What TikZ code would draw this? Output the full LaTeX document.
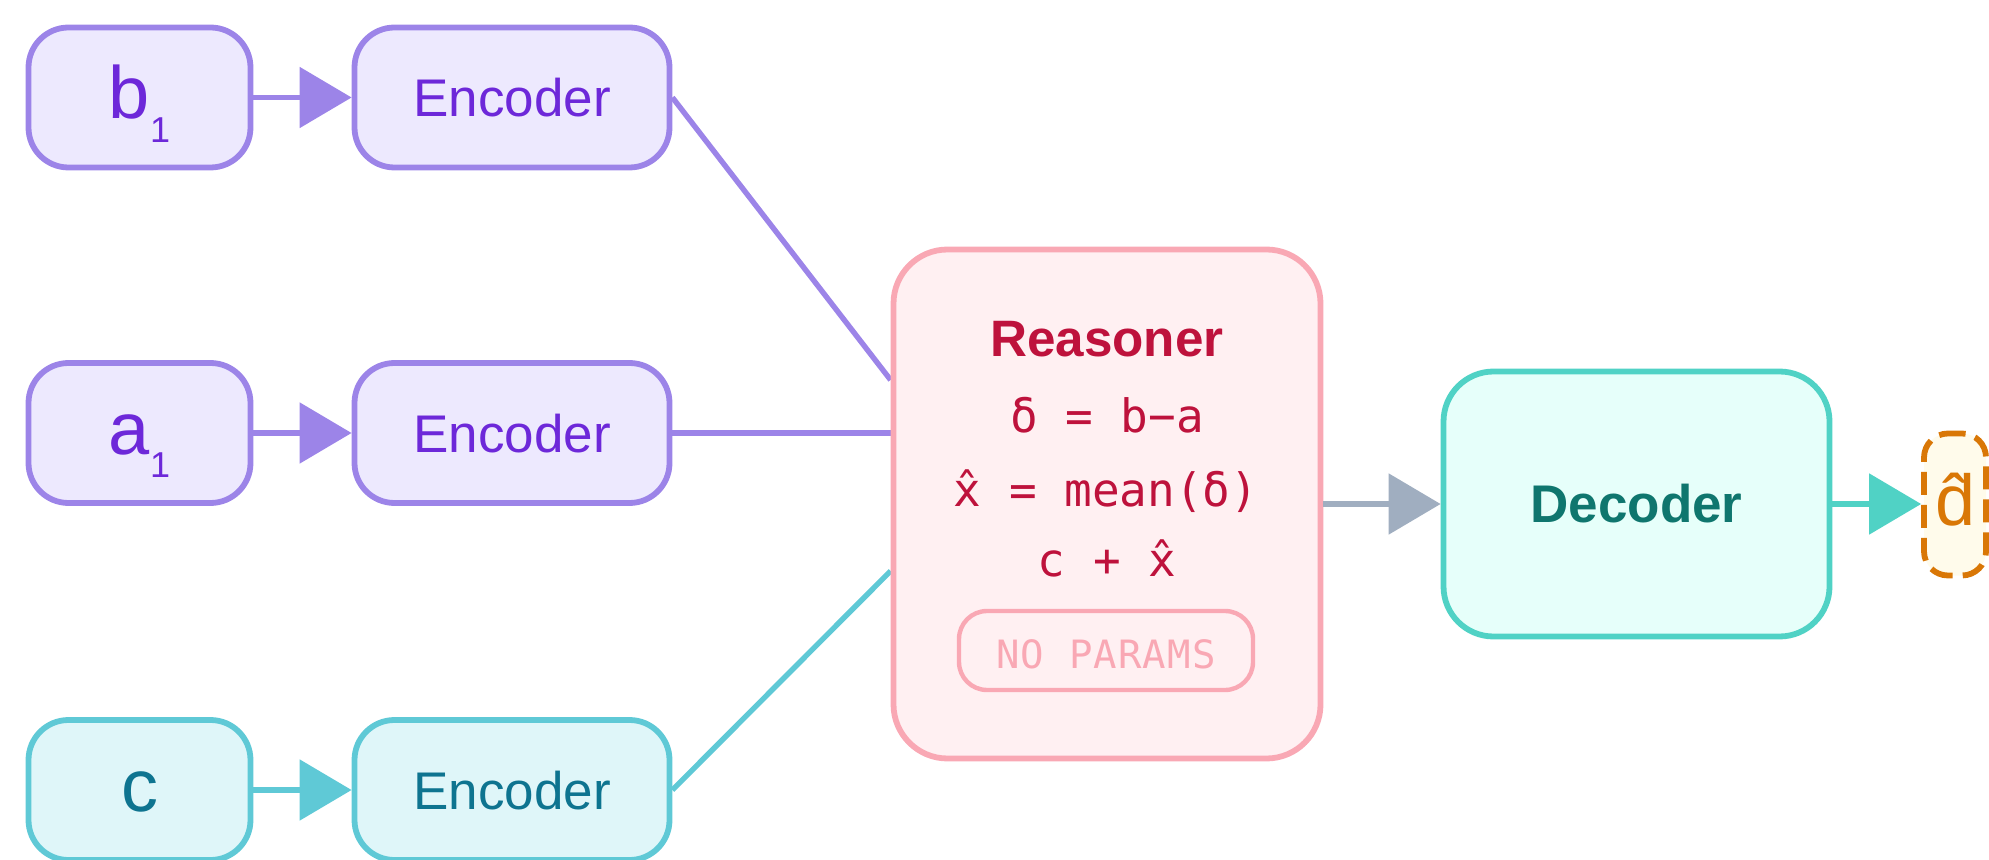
\documentclass[tikz,border=0pt]{standalone}
\usepackage{fontspec}
\setmainfont{Liberation Sans}
\newfontfamily\monofont{DejaVu Sans Mono}
\newfontfamily\monospaced[LetterSpace=3]{DejaVu Sans Mono}
\usetikzlibrary{arrows.meta,calc,backgrounds}

\definecolor{purpS}{HTML}{9C84E8}
\definecolor{purpF}{HTML}{EDE9FE}
\definecolor{purpT}{HTML}{6D28D9}
\definecolor{cyanS}{HTML}{5FC9D6}
\definecolor{cyanF}{HTML}{DFF6F9}
\definecolor{cyanT}{HTML}{0E7490}
\definecolor{roseS}{HTML}{F9A8B4}
\definecolor{roseF}{HTML}{FFF0F2}
\definecolor{roseT}{HTML}{BE123C}
\definecolor{tealS}{HTML}{50D2C5}
\definecolor{tealF}{HTML}{E6FFFA}
\definecolor{tealT}{HTML}{0F766E}
\definecolor{grayA}{HTML}{A0AEC0}
\definecolor{orgS}{HTML}{D97706}
\definecolor{orgF}{HTML}{FFFBEB}

\newcommand\lowsub[1]{\raisebox{-12pt}{\fontsize{18}{18}\selectfont #1}}

\begin{document}
\begin{tikzpicture}[x=0.5pt,y=-0.5pt,
  box/.style={draw, line width=2.9pt, rounded corners=20pt, inner sep=0pt, text depth=0pt},
  small/.style={box, minimum width=111pt, minimum height=70pt, font=\fontsize{37}{37}\selectfont, text height=21pt},
  enc/.style={box, minimum width=157.5pt, minimum height=70pt, font=\fontsize{26.5}{26.5}\selectfont, text height=19.5pt},
  purp/.style={draw=purpS, fill=purpF, text=purpT},
  cyn/.style={draw=cyanS, fill=cyanF, text=cyanT},
  conn/.style={line width=2.7pt},
  tip/.style={-{Triangle[length=26pt,width=30pt]}},
  monoline/.style={anchor=base, text=roseT, font=\monofont\fontsize{23}{23}\selectfont, inner sep=0pt},
]
\useasboundingbox (0,0) rectangle (1989,860);

\node[small,purp] (b1) at (139.5,97.5) {b\lowsub{1}};
\node[enc,purp] (e1) at (512,97.5) {Encoder};
\node[small,purp] (a1) at (139.5,433) {a\lowsub{1}};
\node[enc,purp] (e2) at (512,433) {Encoder};
\node[small,cyn] (c) at (139.5,790) {c};
\node[enc,cyn] (e3) at (512,790) {Encoder};

\node[box, draw=roseS, fill=roseF, rounded corners=27pt, minimum width=213.5pt, minimum height=254.5pt] (R) at (1107,504) {};
\node[anchor=base, inner sep=0pt, text=roseT, font=\bfseries\fontsize{25.6}{25.6}\selectfont] (rt) at (1107,357) {Reasoner};
\node[monoline] (l1) at (1107,433) {δ = b−a};
\node[monoline] (l2) at (1106,506) {x̂ = mean(δ)};
\node[monoline] (l3) at (1107,576) {c + x̂};
\node[box, draw=roseS, line width=2.2pt, rounded corners=14pt, fill=roseF, minimum width=147pt, minimum height=39.5pt, text=roseS, font=\monospaced\fontsize{19.5}{19.5}\selectfont, text height=17.5pt] (np) at (1106,650.5) {NO PARAMS};

\node[box, draw=tealS, fill=tealF, text=tealT, rounded corners=25pt, minimum width=193pt, minimum height=132.5pt, font=\bfseries\fontsize{26.5}{26.5}\selectfont, text height=18pt] (dec) at (1636.5,504) {Decoder};

\node[box, draw=orgS, fill=orgF, text=orgS, dash pattern=on 11.5pt off 5pt, rounded corners=12pt, minimum width=31pt, minimum height=71pt, font=\fontsize{36}{36}\selectfont, text height=20.5pt] (d) at (1955,504.5) {d̂};

\draw[conn,purpS,tip] (b1) -- (e1);
\draw[conn,purpS,tip] (a1) -- (e2);
\draw[conn,cyanS,tip] (c) -- (e3);
\begin{scope}[on background layer]
\draw[conn,purpS] (e1.east) -- ($(R.west)+(0,62pt)$);
\draw[conn,purpS] (e2.east) -- (R.west |- e2.east);
\draw[conn,cyanS] (e3.east) -- ($(R.west)+(0,-33.5pt)$);
\end{scope}
\draw[conn,grayA,tip] (R) -- (dec);
\draw[conn,tealS,tip] (dec.east) -- (d.west |- dec.east);
\end{tikzpicture}
\end{document}
